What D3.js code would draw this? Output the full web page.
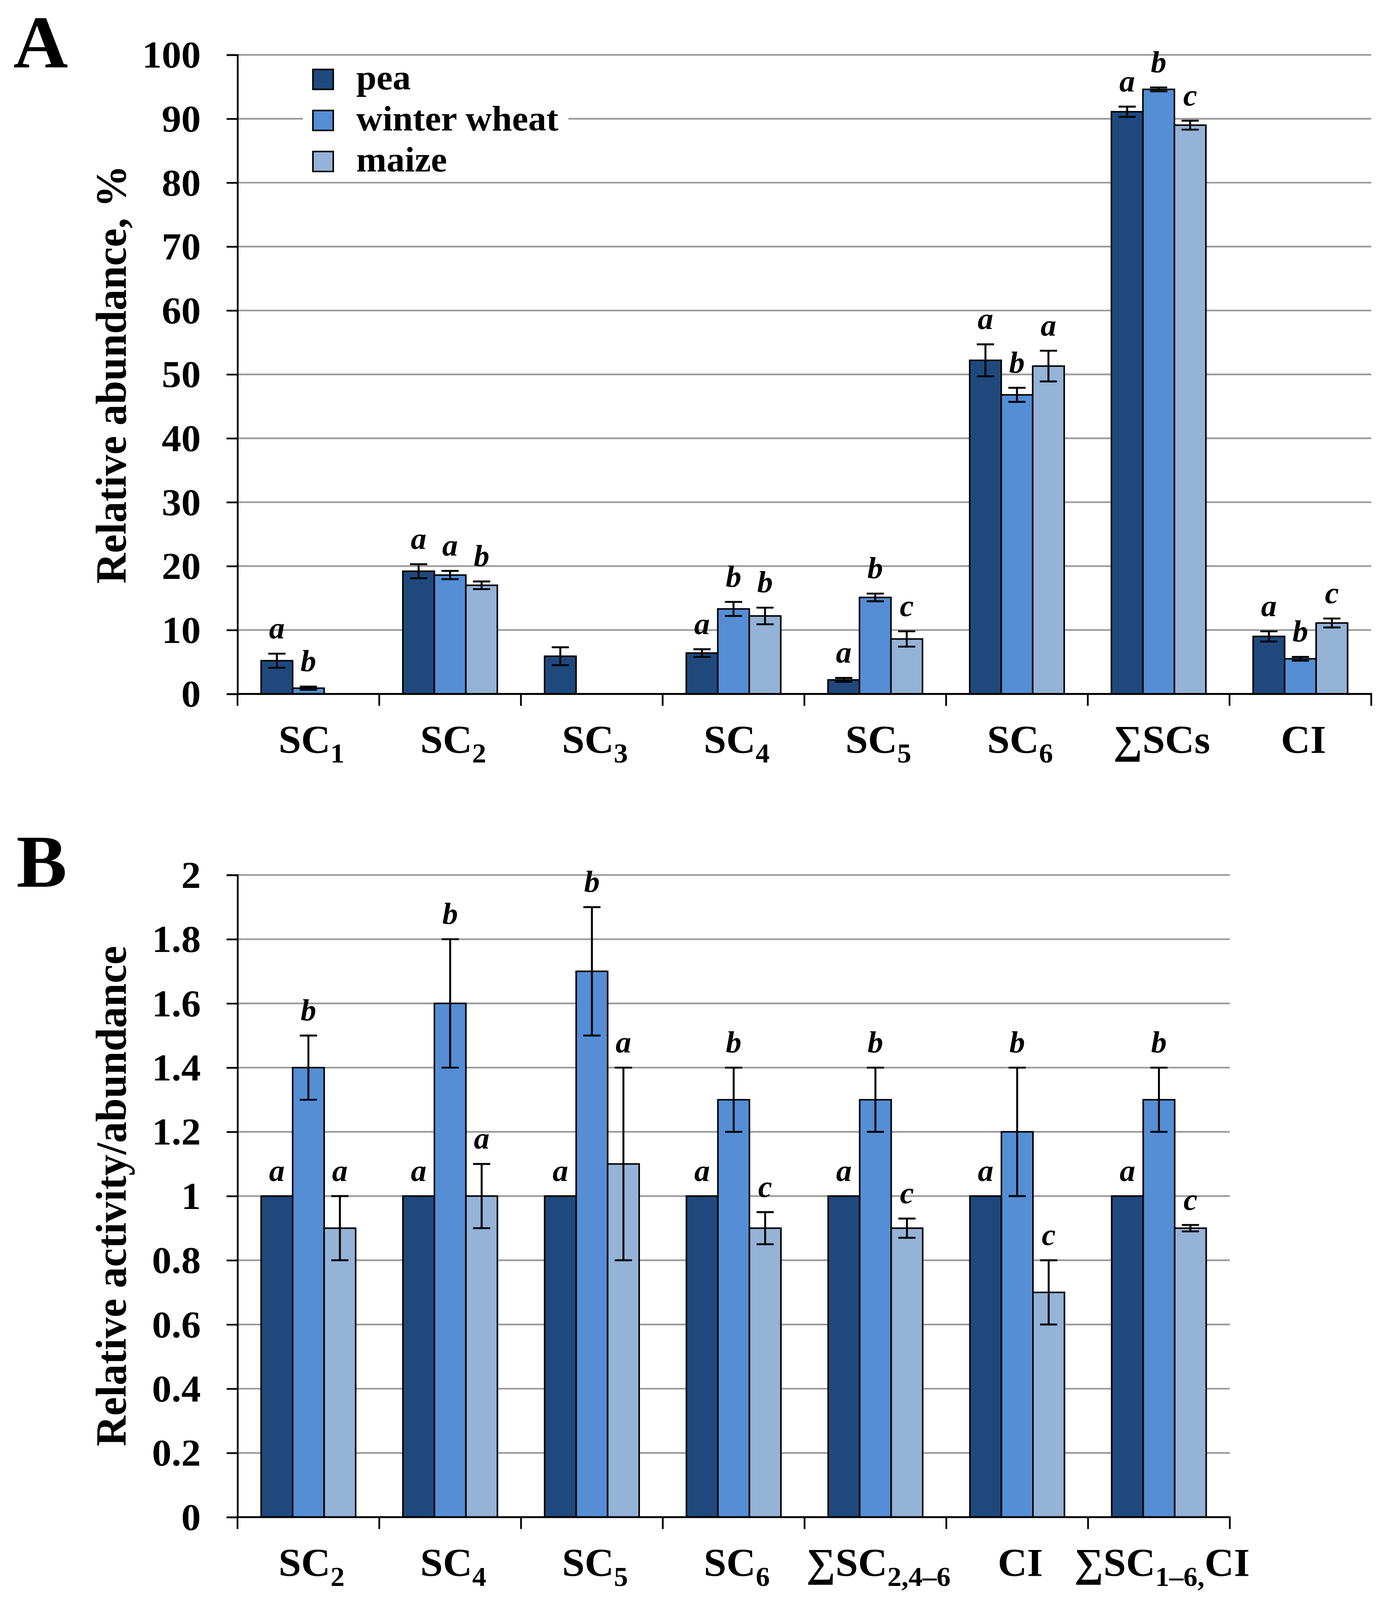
<!DOCTYPE html>
<html>
<head>
<meta charset="utf-8">
<script src="https://cdn.jsdelivr.net/npm/d3@7"></script>
<style>
  html, body { margin: 0; padding: 0; background: #fff; overflow: hidden; }
  svg { display: block; width: 100vw; height: 100vh; font-family: 'Liberation Serif', 'Times New Roman', serif; }
</style>
</head>
<body>
<div id="chart"></div>
<script>
// series shared by both panels
const series = ['pea', 'winter wheat', 'maize'];
const colors = ['#1f497d', '#558ed5', '#95b3d7'];

// panel A: relative abundance, %   (_{..} = subscript)
const categoriesA = ['SC_{1}', 'SC_{2}', 'SC_{3}', 'SC_{4}', 'SC_{5}', 'SC_{6}', '\u2211SCs', 'CI'];
const peaA = [5.2, 19.2, 5.9, 6.4, 2.2, 52.2, 91.1, 9.0];
const wheatA = [0.9, 18.6, null, 13.3, 15.1, 46.8, 94.6, 5.5];
const maizeA = [null, 17.0, null, 12.2, 8.6, 51.3, 89.0, 11.1];
const peaErrA = [1.1, 1.1, 1.4, 0.6, 0.3, 2.5, 0.8, 0.8];
const wheatErrA = [0.25, 0.65, null, 1.1, 0.6, 1.1, 0.3, 0.3];
const maizeErrA = [null, 0.6, null, 1.3, 1.2, 2.4, 0.7, 0.7];
const peaLetA = ['a', 'a', '', 'a', 'a', 'a', 'a', 'a'];
const wheatLetA = ['b', 'a', '', 'b', 'b', 'b', 'b', 'b'];
const maizeLetA = ['', 'b', '', 'b', 'c', 'a', 'c', 'c'];
const ticksA = [0, 10, 20, 30, 40, 50, 60, 70, 80, 90, 100];

// panel B: relative activity/abundance
const categoriesB = ['SC_{2}', 'SC_{4}', 'SC_{5}', 'SC_{6}', '\u2211SC_{2,4\u20136}', 'CI', '\u2211SC_{1\u20136,}CI'];
const peaB = [1, 1, 1, 1, 1, 1, 1];
const wheatB = [1.4, 1.6, 1.7, 1.3, 1.3, 1.2, 1.3];
const maizeB = [0.9, 1.0, 1.1, 0.9, 0.9, 0.7, 0.9];
const peaErrB = [null, null, null, null, null, null, null];
const wheatErrB = [0.1, 0.2, 0.2, 0.1, 0.1, 0.2, 0.1];
const maizeErrB = [0.1, 0.1, 0.3, 0.05, 0.03, 0.1, 0.01];
const peaLetB = ['a', 'a', 'a', 'a', 'a', 'a', 'a'];
const wheatLetB = ['b', 'b', 'b', 'b', 'b', 'b', 'b'];
const maizeLetB = ['a', 'a', 'a', 'c', 'c', 'c', 'c'];
const ticksB = [0, 0.2, 0.4, 0.6, 0.8, 1, 1.2, 1.4, 1.6, 1.8, 2];

const W = 3535, H = 4171;

// drawn in reference pixels, stretched onto whatever viewport the page gets
const svg = d3.select('#chart').append('svg')
    .attr('viewBox', `0 0 ${W} ${H}`)
    .attr('preserveAspectRatio', 'none');

svg.append('rect').attr('width', W).attr('height', H).attr('fill', '#fff');

// text with _{..} parts drawn as subscripts
function addRichText(text, str, subSize, subShift) {
    let parts = str.split(/_\{|\}/);
    let shifted = 0;
    parts.forEach((p, k) => {
        if (!p) return;
        let isSub = k % 2 === 1;
        let target = isSub ? subShift : 0;
        text.append('tspan')
            .attr('dy', target - shifted)
            .style('font-size', isSub ? subSize + 'px' : null)
            .text(p);
        shifted = target;
    });
}

function drawPanel({categories, values, errors, letters, ticks, tickFormat, x0, x1, yTop, yBottom, maxY, title, panelLabel, labelPos}) {
    const g = svg.append('g');

    const x = d3.scaleBand()
        .domain(categories)
        .range([x0, x1])
        .padding(0);

    const xs = d3.scaleBand()
        .domain(series)
        .range([0, x.bandwidth()])
        .paddingInner(0)
        .paddingOuter(0.75);

    const y = d3.scaleLinear()
        .domain([0, maxY])
        .range([yBottom, yTop]);

    // grid
    g.append('g').selectAll('line')
        .data(ticks.filter(t => t > 0))
        .join('line')
        .attr('x1', x0)
        .attr('x2', x1)
        .attr('y1', d => y(d))
        .attr('y2', d => y(d))
        .attr('stroke', '#9c9c9c')
        .attr('stroke-width', 4.5);

    // y axis
    const yAxis = g.append('g')
        .attr('transform', `translate(${x0},0)`)
        .call(d3.axisLeft(y).tickValues(ticks).tickFormat(tickFormat).tickSize(28).tickPadding(66));
    yAxis.select('.domain').attr('stroke', '#000').attr('stroke-width', 4.5);
    yAxis.selectAll('.tick line').attr('stroke', '#000').attr('stroke-width', 4.5);
    yAxis.selectAll('.tick text')
        .attr('fill', '#000')
        .style('font-family', "'Liberation Serif', 'Times New Roman', serif")
        .style('font-size', '100px')
        .style('font-weight', 'bold')
        .attr('dy', '0.33em');

    // rows: one per bar
    let rows = [];
    categories.forEach((c, i) => {
        series.forEach((s, j) => {
            if (values[j][i] == null) return;
            rows.push({cat: c, s, j, v: values[j][i], e: errors[j][i], letter: letters[j][i]});
        });
    });

    const bars = g.append('g');
    bars.selectAll('rect')
        .data(rows)
        .join('rect')
        .attr('x', d => x(d.cat) + xs(d.s))
        .attr('y', d => y(d.v))
        .attr('width', xs.bandwidth())
        .attr('height', d => yBottom - y(d.v))
        .attr('fill', d => colors[d.j])
        .attr('stroke', '#000')
        .attr('stroke-width', 4);

    // error bars
    const cap = 22;
    const errs = g.append('g')
        .attr('stroke', '#000')
        .attr('stroke-width', 5)
        .selectAll('g')
        .data(rows.filter(d => d.e))
        .join('g')
        .attr('transform', d => `translate(${x(d.cat) + xs(d.s) + xs.bandwidth() / 2},0)`);
    errs.append('line')
        .attr('y1', d => y(d.v - d.e))
        .attr('y2', d => y(d.v + d.e));
    errs.append('line')
        .attr('x1', -cap).attr('x2', cap)
        .attr('y1', d => y(d.v + d.e)).attr('y2', d => y(d.v + d.e));
    errs.append('line')
        .attr('x1', -cap).attr('x2', cap)
        .attr('y1', d => y(d.v - d.e)).attr('y2', d => y(d.v - d.e));

    // significance letters
    g.append('g').selectAll('text')
        .data(rows.filter(d => d.letter))
        .join('text')
        .attr('x', d => x(d.cat) + xs(d.s) + xs.bandwidth() / 2)
        .attr('y', d => y(d.v + (d.e || 0)) - 40)
        .attr('text-anchor', 'middle')
        .style('font-size', '80px')
        .style('font-weight', 'bold')
        .style('font-style', 'italic')
        .text(d => d.letter);

    // x axis
    g.append('line')
        .attr('x1', x0 - 2).attr('x2', x1 + 2)
        .attr('y1', yBottom).attr('y2', yBottom)
        .attr('stroke', '#000')
        .attr('stroke-width', 5);
    let bounds = categories.map(c => x(c)).concat([x1]);
    g.append('g').selectAll('line')
        .data(bounds)
        .join('line')
        .attr('x1', d => d).attr('x2', d => d)
        .attr('y1', yBottom).attr('y2', yBottom + 31)
        .attr('stroke', '#000')
        .attr('stroke-width', 4.5);

    categories.forEach(c => {
        let t = g.append('text')
            .attr('x', x(c) + x.bandwidth() / 2 + 8)
            .attr('y', yBottom + 154)
            .attr('text-anchor', 'middle')
            .style('font-size', '104px')
            .style('font-weight', 'bold');
        addRichText(t, c, 72, 25);
    });

    // axis title
    g.append('text')
        .attr('transform', `translate(322,${(yTop + yBottom) / 2}) rotate(-90)`)
        .attr('text-anchor', 'middle')
        .style('font-size', '110px')
        .style('font-weight', 'bold')
        .text(title);

    // panel letter
    g.append('text')
        .attr('x', labelPos[0])
        .attr('y', labelPos[1])
        .style('font-size', '194px')
        .style('font-weight', 'bold')
        .text(panelLabel);

    return g;
}

const panelA = drawPanel({
    categories: categoriesA,
    values: [peaA, wheatA, maizeA],
    errors: [peaErrA, wheatErrA, maizeErrA],
    letters: [peaLetA, wheatLetA, maizeLetA],
    ticks: ticksA,
    tickFormat: d => d,
    x0: 608, x1: 3510,
    yTop: 143, yBottom: 1809,
    maxY: 100,
    title: 'Relative abundance, %',
    panelLabel: 'A',
    labelPos: [34, 176]
});

drawPanel({
    categories: categoriesB,
    values: [peaB, wheatB, maizeB],
    errors: [peaErrB, wheatErrB, maizeErrB],
    letters: [peaLetB, wheatLetB, maizeLetB],
    ticks: ticksB,
    tickFormat: d => String(d),
    x0: 608, x1: 3148,
    yTop: 2281, yBottom: 3955,
    maxY: 2,
    title: 'Relative activity/abundance',
    panelLabel: 'B',
    labelPos: [42, 2312]
});

// legend (panel A)
const legend = panelA.append('g');
legend.append('rect')
    .attr('x', 775).attr('y', 165)
    .attr('width', 680).attr('height', 290)
    .attr('fill', '#fff');
series.forEach((s, i) => {
    let cy = 207 + i * 107;
    legend.append('rect')
        .attr('x', 801).attr('y', cy - 26)
        .attr('width', 52).attr('height', 52)
        .attr('fill', colors[i])
        .attr('stroke', '#000')
        .attr('stroke-width', 4);
    legend.append('text')
        .attr('x', 912).attr('y', cy + 26)
        .style('font-size', '93px')
        .style('font-weight', 'bold')
        .text(s);
});
</script>
</body>
</html>
